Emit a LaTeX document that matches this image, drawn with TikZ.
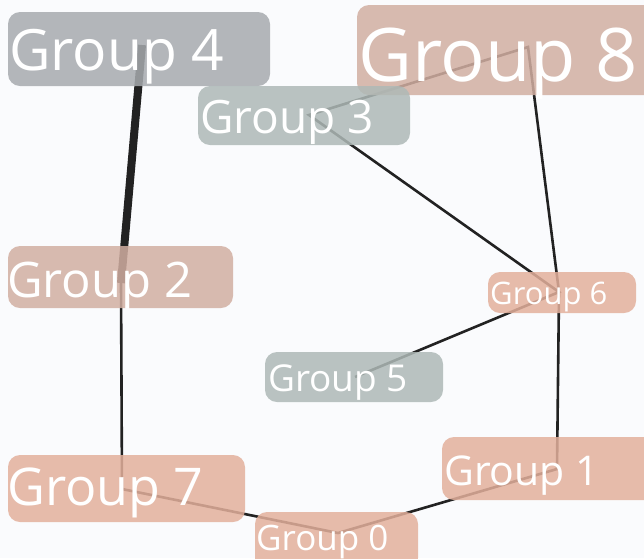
\documentclass[tikz,border=0pt]{standalone}
\usepackage{fontspec}
\setmainfont{Open Sans}
\definecolor{bgc}{HTML}{FAFBFD}
\definecolor{linkc}{HTML}{222222}
\definecolor{peach}{HTML}{E3B09C}
\definecolor{rose}{HTML}{D2AFA2}
\definecolor{sage}{HTML}{AEB9B7}
\definecolor{slate}{HTML}{A7ABAF}
\newcommand{\gsize}[1]{\fontsize{#1}{#1}\selectfont}
\begin{document}
\begin{tikzpicture}[x=1pt,y=-1pt,
  link/.style={line width=2.6pt,draw=linkc},
  grp/.style={rounded corners=12pt,fill opacity=.85},
  lbl/.style={anchor=base west,inner sep=0pt,text=white}]
\useasboundingbox (0,0) rectangle (644,558);
\clip (0,0) rectangle (644,558);
\fill[bgc] (0,0) rectangle (644,558);
% group positions
\coordinate (g0) at (338,533);
\coordinate (g1) at (557,469);
\coordinate (g2) at (121,283);
\coordinate (g3) at (309,115);
\coordinate (g4) at (142,45);
\coordinate (g5) at (355,377);
\coordinate (g6) at (559,292);
\coordinate (g7) at (122,489);
\coordinate (g8) at (528,47);
% links
\draw[link,line width=8pt](g4)--(g2);
\draw[link](g2)--(g7)--(g0)--(g1)--(g6)--(g8)--(g3)--(g6)--(g5);
% boxes
\fill[grp,slate](8,12) rectangle (270,86);
\fill[grp,rose](357,5) rectangle (660,95);
\fill[grp,sage](198,86) rectangle (410,145);
\fill[grp,rose](8,246) rectangle (233,308);
\fill[grp,peach](488,272) rectangle (636,313);
\fill[grp,sage](265,352) rectangle (443,402);
\fill[grp,peach](442,437) rectangle (656,500);
\fill[grp,peach](8,455) rectangle (245,522);
\fill[grp,peach](255,512) rectangle (418,570);
% labels
\node[lbl](t4) at (9,70){\gsize{57}Group 4};
\node[lbl](t8) at (358,81){\gsize{74}Group 8};
\node[lbl](t3) at (200,133){\gsize{46}Group 3};
\node[lbl](t2) at (7,297){\gsize{49}Group 2};
\node[lbl](t6) at (490,304){\gsize{31}Group 6};
\node[lbl](t5) at (268,391){\gsize{37}Group 5};
\node[lbl](t1) at (444,485){\gsize{41}Group 1};
\node[lbl](t7) at (7,505){\gsize{52}Group 7};
\node[lbl](t0) at (256,550){\gsize{35}Group 0};
\end{tikzpicture}
\end{document}
